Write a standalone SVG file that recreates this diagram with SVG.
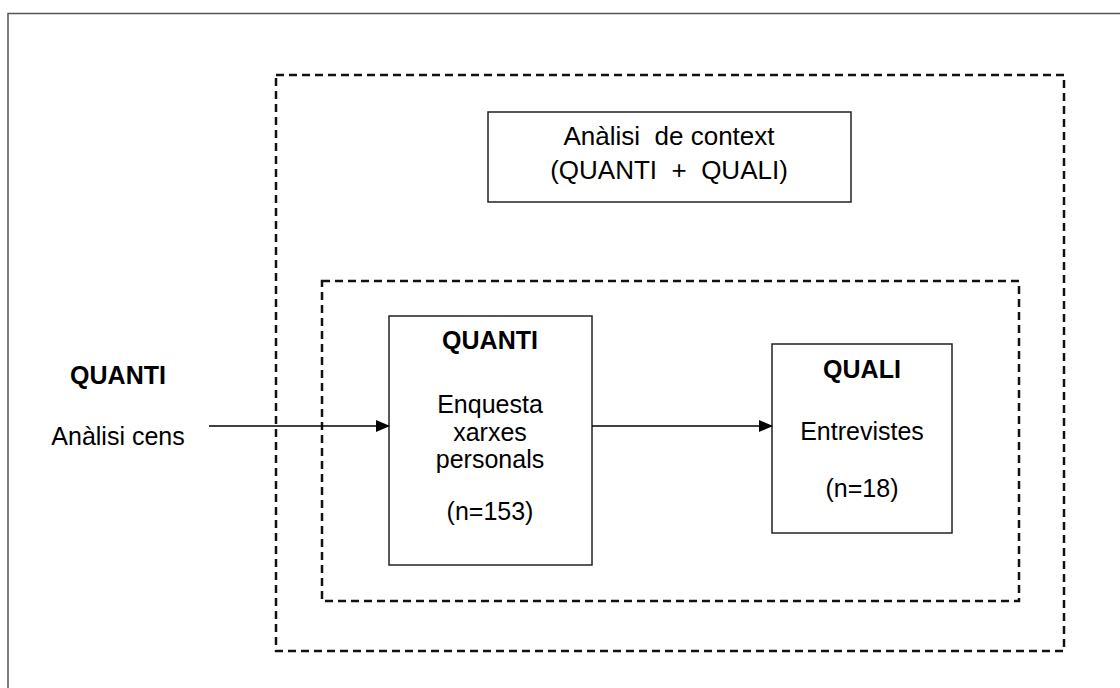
<svg xmlns="http://www.w3.org/2000/svg" width="1120" height="688" viewBox="0 0 1120 688">
<defs>
<style>
.t{font-family:"Liberation Sans",Arial,sans-serif;font-size:25px;fill:#000;text-anchor:middle}
.c{font-size:26px;white-space:pre}
.b{font-weight:bold}
.box{fill:#fff;stroke:#222;stroke-width:1.5}
.dash{fill:none;stroke:#111;stroke-width:2.5;stroke-dasharray:8 5}
.conn{stroke:#000;stroke-width:1.5;fill:none}
</style>
<marker id="ah" markerWidth="14" markerHeight="14" refX="13" refY="7" orient="auto" markerUnits="userSpaceOnUse">
<path d="M0,1 L14,7 L0,13 z" fill="#000"/>
</marker>
</defs>
<rect width="1120" height="688" fill="#fff"/>
<rect x="8" y="13.5" width="1130" height="700" fill="none" stroke="#555" stroke-width="1.5"/>
<g id="outer-group"><rect class="dash" x="276" y="75" width="788" height="576"/></g>
<g id="inner-group"><rect class="dash" x="322" y="281" width="697" height="320"/></g>
<g id="context">
<rect class="box" x="488" y="112" width="363" height="90"/>
<text class="t c" x="669" y="145" xml:space="preserve">Anàlisi  de context</text>
<text class="t c" x="669" y="179" xml:space="preserve">(QUANTI  +  QUALI)</text>
</g>
<g id="census">
<text class="t b" x="118" y="384">QUANTI</text>
<text class="t" x="118" y="445">Anàlisi cens</text>
</g>
<g id="quanti">
<rect class="box" x="389" y="316" width="203" height="249"/>
<text class="t b" x="490" y="349">QUANTI</text>
<text class="t" x="490" y="413">Enquesta</text>
<text class="t" x="490" y="441">xarxes</text>
<text class="t" x="490" y="468">personals</text>
<text class="t" x="490" y="520">(n=153)</text>
</g>
<g id="quali">
<rect class="box" x="772" y="344" width="180" height="189"/>
<text class="t b" x="862" y="378">QUALI</text>
<text class="t" x="862" y="440">Entrevistes</text>
<text class="t" x="862" y="497">(n=18)</text>
</g>
<g id="connectors">
<line class="conn" x1="209" y1="426" x2="389" y2="426" marker-end="url(#ah)"/>
<line class="conn" x1="592" y1="426" x2="772" y2="426" marker-end="url(#ah)"/>
</g>
</svg>
